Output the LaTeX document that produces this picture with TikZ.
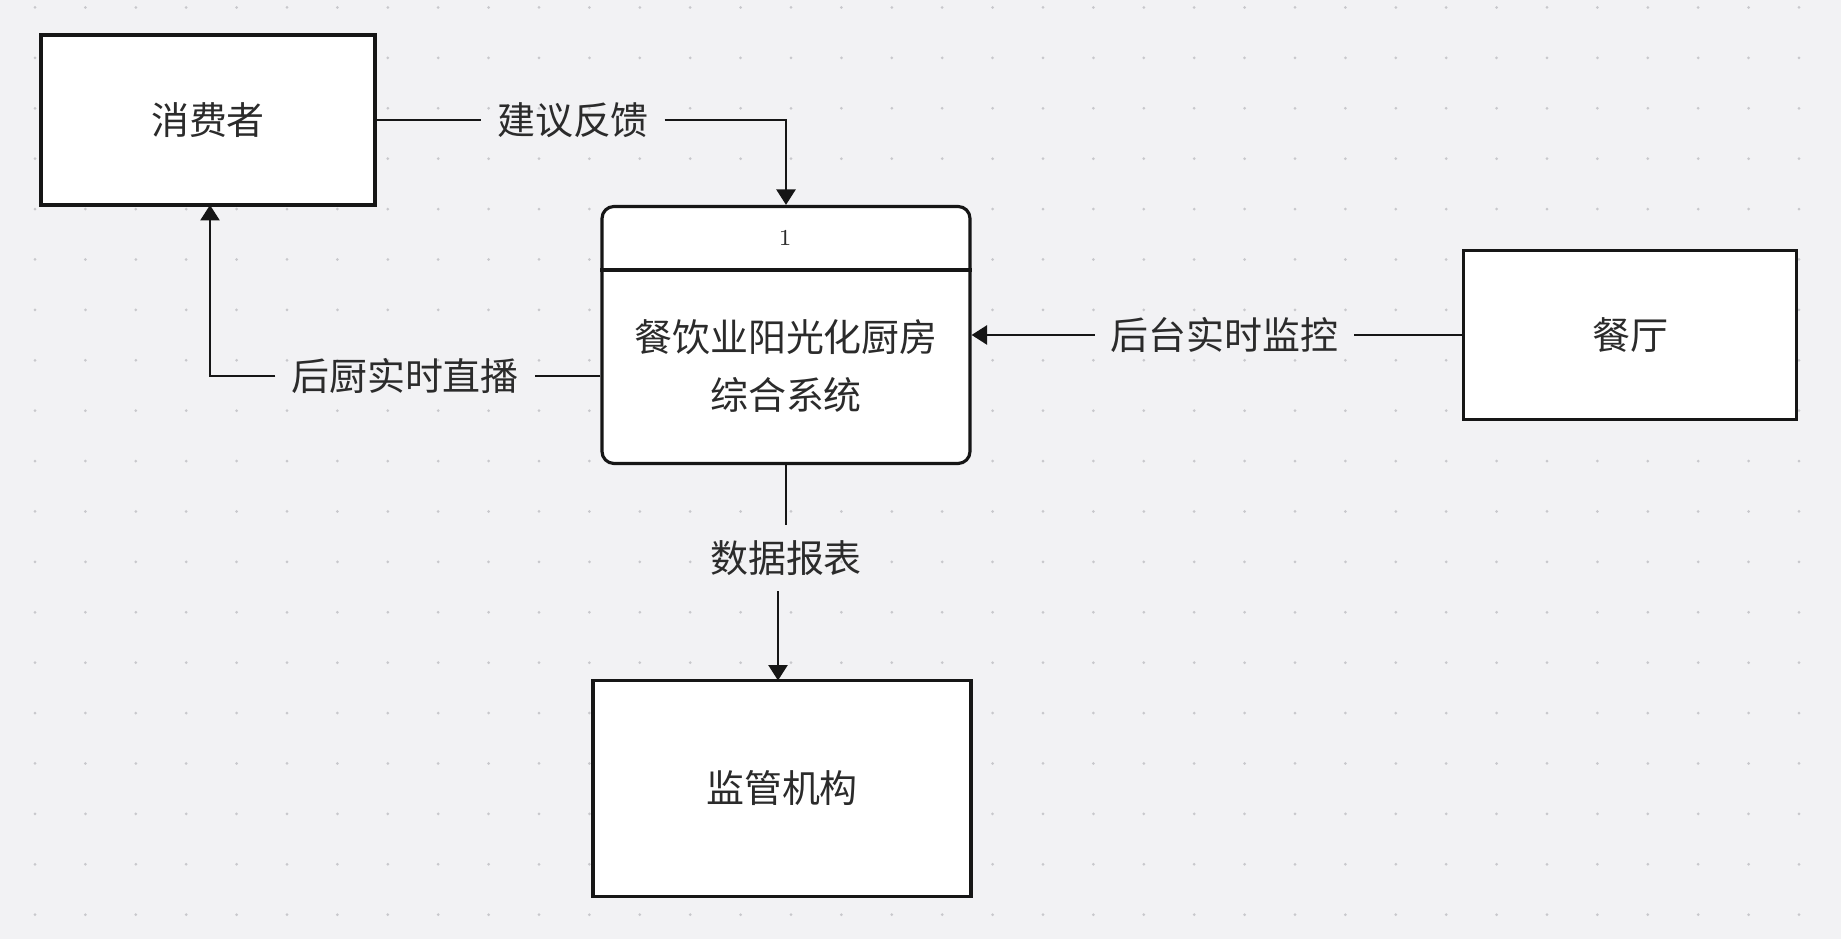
\documentclass[tikz,border=0pt]{standalone}
\usepackage{fontspec}
\usepackage{xcolor}
\usetikzlibrary{arrows.meta}
\newfontfamily\cjk{Noto Sans CJK SC}

\definecolor{bgc}{HTML}{F2F2F4}
\definecolor{dotc}{HTML}{C8C8CC}
\definecolor{txtc}{HTML}{2B2B2B}
\definecolor{linec}{HTML}{161616}

\tikzset{
  entity/.style={draw=linec, line width=0.9pt, fill=white, text=txtc,
    font=\cjk\fontsize{10.8}{13}\selectfont},
  flowlabel/.style={inner sep=4.3pt, text=txtc, font=\cjk\fontsize{10.8}{13}\selectfont},
  flow/.style={draw=linec, line width=0.75pt},
  tip/.style={-{Triangle[width=5.4pt,length=4.4pt]}}
}

\begin{document}
\begin{tikzpicture}
  \useasboundingbox (0,0) rectangle (18.41,9.39) ;
  \fill[bgc] (0,0) rectangle (18.41,9.39) ;
  \foreach \i in {0,...,35}
    \foreach \j in {0,...,18}
      \fill[dotc] (0.35+0.504*\i,9.315-0.504*\j) circle (0.015) ;

  \node[entity, minimum width=3.34cm, minimum height=1.70cm] (consumer) at (2.08,8.19) {消费者} ;
  \node[entity, minimum width=3.33cm, minimum height=1.69cm] (restaurant) at (16.30,6.04) {餐厅} ;
  \node[entity, minimum width=3.78cm, minimum height=2.16cm] (regulator) at (7.82,1.505) {监管机构} ;
  \node[entity, rounded corners=3.4pt, minimum width=3.68cm, minimum height=2.57cm] (proc) at (7.86,6.04) {} ;
  \draw[linec, line width=0.9pt] (proc.west |- 0,6.69) -- (proc.east |- 0,6.69) ;
  \node[text=txtc, font=\fontsize{6.5}{8}\selectfont] (procid) at (7.85,7.01) {1} ;
  \node[text=txtc, align=center, font=\cjk\fontsize{10.8}{16.5}\selectfont] (proctext) at (7.86,5.725) {餐饮业阳光化厨房\\综合系统} ;

  \node[flowlabel] (feedback) at (5.73,8.19) {建议反馈} ;
  \node[flowlabel] (live) at (4.05,5.63) {后厨实时直播} ;
  \node[flowlabel] (monitor) at (12.245,6.04) {后台实时监控} ;
  \node[flowlabel] (report) at (7.86,3.81) {数据报表} ;
  \coordinate (liveend) at (2.10,7.34) ;
  \coordinate (repend) at (7.78,2.585) ;

  \draw[flow] (consumer) -- (feedback) ;
  \draw[flow, tip] (feedback) -| (proc.north) ;
  \draw[flow] (proc.west |- live) -- (live) ;
  \draw[flow, tip] (live) -| (liveend) ;
  \draw[flow] (restaurant) -- (monitor) ;
  \draw[flow, tip] (monitor) -- (monitor -| proc.east) ;
  \draw[flow] (proc) -- (report) ;
  \draw[flow, tip] (report.south -| repend) -- (repend) ;
\end{tikzpicture}
\end{document}
